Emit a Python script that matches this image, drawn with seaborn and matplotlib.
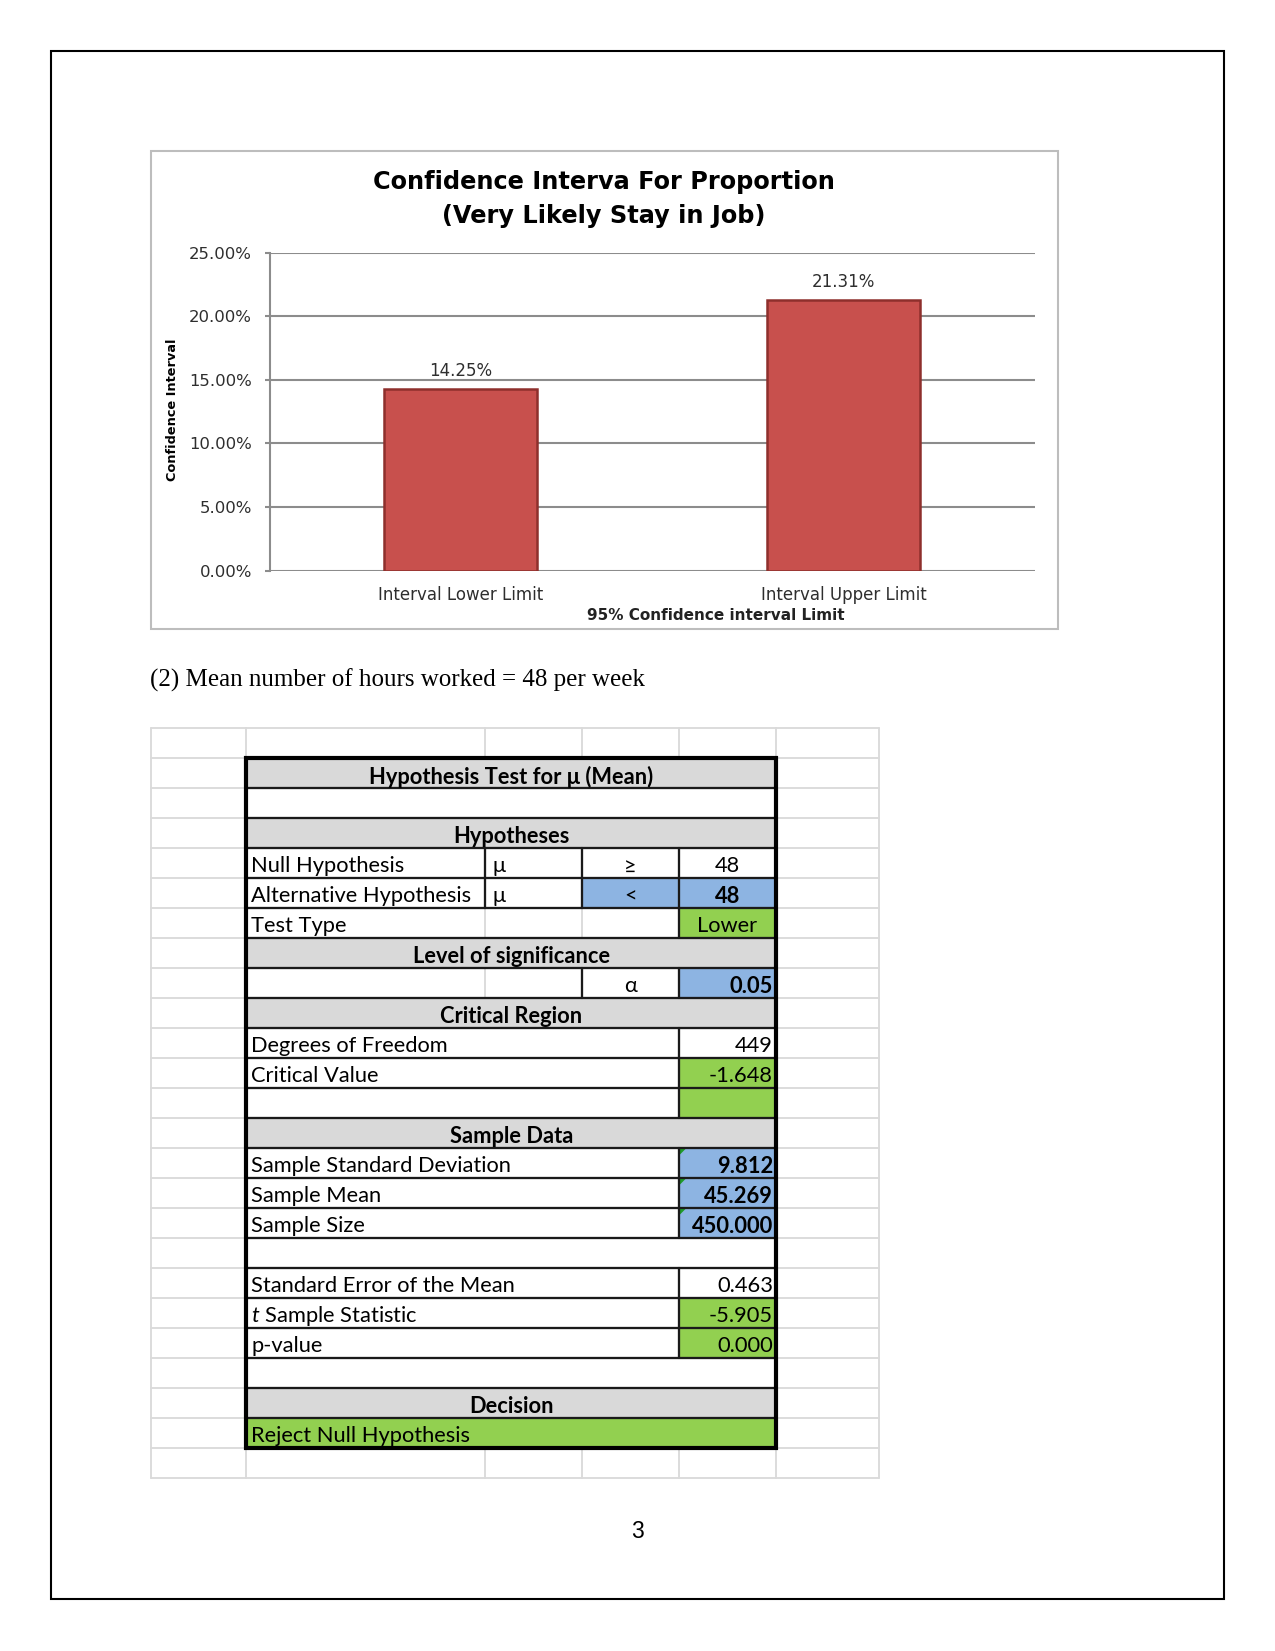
import matplotlib
matplotlib.use("Agg")
import matplotlib.pyplot as plt
import seaborn as sns
import pandas as pd
from matplotlib.patches import Rectangle, Polygon
from matplotlib.ticker import PercentFormatter

# ---------------- data ----------------
categories = ["Interval Lower Limit", "Interval Upper Limit"]
ci_values = [0.1425, 0.2131]
y_ticks = [0.0, 0.05, 0.10, 0.15, 0.20, 0.25]
chart_title_lines = ["Confidence Interva For Proportion", "(Very Likely Stay in Job)"]
y_label = "Confidence Interval"
x_label = "95% Confidence interval Limit"
paragraph = "(2) Mean number of hours worked = 48 per week"
page_number = "3"

row_labels = ["Hypothesis Test for μ (Mean)", "", "Hypotheses", "Null Hypothesis",
              "Alternative Hypothesis", "Test Type", "Level of significance", "",
              "Critical Region", "Degrees of Freedom", "Critical Value", "",
              "Sample Data", "Sample Standard Deviation", "Sample Mean", "Sample Size", "",
              "Standard Error of the Mean", "$t$ Sample Statistic", "p-value", "",
              "Decision", "Reject Null Hypothesis"]
row_kinds = ["header", "blank", "header", "hyp", "hyp", "type", "header", "alpha",
             "header", "kv", "kv", "kv", "header", "kv", "kv", "kv", "blank",
             "kv", "kv", "kv", "blank", "header", "decision"]
row_values = ["", "", "", "48", "48", "Lower", "", "0.05", "", "449", "-1.648", "",
              "", "9.812", "45.269", "450.000", "", "0.463", "-5.905", "0.000", "", "", ""]
row_symbols = ["", "", "", "≥", "<", "", "", "α", "", "", "", "", "", "", "", "", "",
               "", "", "", "", "", ""]
row_param = ["", "", "", "μ", "μ", "", "", "", "", "", "", "", "", "", "", "", "",
             "", "", "", "", "", ""]
value_fill = [None, None, None, None, "blue", "green", None, "blue", None, None, "green",
              "green", None, "blue", "blue", "blue", None, None, "green", "green", None,
              None, None]
symbol_fill = [None, None, None, None, "blue", None, None, None, None, None, None, None,
               None, None, None, None, None, None, None, None, None, None, None]
value_bold = [False, False, False, False, True, False, False, True, False, False, False,
              False, False, True, True, True, False, False, False, False, False, False, False]
flag_rows = [False] * 13 + [True, True, True] + [False] * 7

# ---------------- setup ----------------
W, H, DPI = 1275, 1651, 150
sns.set_theme(style="white")
plt.rcParams['font.family'] = ['DejaVu Sans']
plt.rcParams['mathtext.fontset'] = 'custom'
plt.rcParams['mathtext.it'] = 'Lato:italic'
plt.rcParams['mathtext.rm'] = 'Lato'

fig = plt.figure(figsize=(W / DPI, H / DPI), dpi=DPI)
fig.patch.set_facecolor("white")

def ax_rect(x0, y0, x1, y1):
    return [x0 / W, 1 - y1 / H, (x1 - x0) / W, (y1 - y0) / H]

page = fig.add_axes([0, 0, 1, 1])
page.set_xlim(0, W)
page.set_ylim(H, 0)
page.axis("off")
page.set_zorder(1)

# page border
page.add_patch(Rectangle((50.5, 50.5), 1224 - 50.5, 1599 - 50.5, fill=False,
                         edgecolor="black", lw=1.0))

# chart frame
page.add_patch(Rectangle((150.5, 150.5), 1058 - 150.5, 628.5 - 150.5, fill=False,
                         edgecolor="#BDBDBD", lw=1.0))

# ---------------- chart ----------------
GRID = "#8C8C8C"
BAR = "#C8504D"
TXT = "#2E2E2E"
ax = fig.add_axes(ax_rect(269.5, 252.7, 1035, 570.6))
ax.set_zorder(2)
ax.patch.set_alpha(0)
df = pd.DataFrame({"cat": categories, "val": ci_values})
sns.barplot(data=df, x="cat", y="val", ax=ax, color=BAR, saturation=1, width=0.4,
            edgecolor="#8E2F2C", linewidth=1.2)
ax.set_xlim(-0.5, 1.5)
ax.set_ylim(0, 0.25)
ax.set_yticks(y_ticks)
ax.yaxis.set_major_formatter(PercentFormatter(1.0, decimals=2))
ax.grid(axis="y", color=GRID, lw=1.0)
ax.grid(axis="x", visible=False)
ax.set_axisbelow(True)
for s in ["top", "right", "bottom"]:
    ax.spines[s].set_visible(False)
ax.spines["left"].set_color(GRID)
ax.spines["left"].set_linewidth(1.0)
ax.tick_params(axis="y", left=True, length=2.4, width=1.0, color=GRID, labelsize=7.9,
               labelcolor=TXT, pad=6.0)
ax.tick_params(axis="x", length=0, labelsize=8, labelcolor=TXT, pad=7.5)
ax.set_xlabel("")
ax.set_ylabel("")
for p in ax.patches:
    h = p.get_height()
    ax.annotate(f"{h * 100:.2f}%", (p.get_x() + p.get_width() / 2, h),
                xytext=(0, 8.6), textcoords="offset points", ha="center", va="center",
                fontsize=8, color=TXT)

page.text(604, 182, chart_title_lines[0], ha="center", va="center", fontsize=11.5,
          fontweight="bold", color="black")
page.text(604, 216, chart_title_lines[1], ha="center", va="center", fontsize=11.5,
          fontweight="bold", color="black")
page.text(172.5, 410, y_label, rotation=90, ha="center", va="center", fontsize=6.2,
          fontweight="bold", color="black")
page.text(716, 616, x_label, ha="center", va="center", fontsize=7.3, fontweight="bold",
          color="#222222")

# ---------------- paragraph ----------------
page.text(150.5, 687, paragraph, ha="left", va="baseline", fontsize=12,
          family=["Liberation Serif"], color="black")
page.text(637, 1532, page_number, ha="center", va="center", fontsize=11,
          family=["Liberation Sans"], color="black")

# ---------------- table ----------------
cols = [150.5, 246.4, 485.3, 582.2, 679.0, 776.0, 879.0]
top0, rh, nrows = 727.5, 30.0, 25
LIGHT = "#DADADA"
DARK = "#1A1A1A"
GRAY = "#D9D9D9"
BLUE = "#8DB4E2"
GREEN = "#92D050"
fills = {"blue": BLUE, "green": GREEN}
TFONT = ["Lato", "DejaVu Sans"]
TSIZE = 10.5
HSIZE = 10.5

for x in cols:
    page.plot([x, x], [top0, top0 + nrows * rh], color=LIGHT, lw=0.9, zorder=0.5)
for r in range(nrows + 1):
    y = top0 + r * rh
    page.plot([cols[0], cols[-1]], [y, y], color=LIGHT, lw=0.9, zorder=0.5)

B, C, D, E, F = cols[1], cols[2], cols[3], cols[4], cols[5]
for i, kind in enumerate(row_kinds):
    y0 = top0 + (i + 1) * rh
    y1 = y0 + rh
    yc = (y0 + y1) / 2 + 4
    base = {"header": GRAY, "decision": GREEN}.get(kind, "white")
    page.add_patch(Rectangle((B, y0), F - B, rh, facecolor=base, edgecolor="none",
                             zorder=1))
    if value_fill[i]:
        page.add_patch(Rectangle((E, y0), F - E, rh, facecolor=fills[value_fill[i]],
                                 edgecolor="none", zorder=1.1))
    if symbol_fill[i]:
        page.add_patch(Rectangle((D, y0), E - D, rh, facecolor=fills[symbol_fill[i]],
                                 edgecolor="none", zorder=1.1))
    # vertical separators
    if kind == "hyp":
        for x in (C, D, E):
            page.plot([x, x], [y0, y1], color=DARK, lw=1.1, zorder=3)
    elif kind == "type":
        for x in (C, D):
            page.plot([x, x], [y0, y1], color=LIGHT, lw=0.9, zorder=2)
        page.plot([E, E], [y0, y1], color=DARK, lw=1.1, zorder=3)
    elif kind == "alpha":
        page.plot([C, C], [y0, y1], color=LIGHT, lw=0.9, zorder=2)
        for x in (D, E):
            page.plot([x, x], [y0, y1], color=DARK, lw=1.1, zorder=3)
    elif kind == "kv":
        page.plot([E, E], [y0, y1], color=DARK, lw=1.1, zorder=3)
    if flag_rows[i]:
        page.add_patch(Polygon([(E + 1, y0 + 1), (E + 7, y0 + 1), (E + 1, y0 + 7)],
                               closed=True, facecolor="#1F9A2A", edgecolor="none",
                               zorder=2.5))
    # texts
    lab = row_labels[i]
    if kind == "header":
        page.text((B + F) / 2, yc, lab, ha="center", va="center", fontsize=HSIZE,
                  fontweight="bold", family=TFONT, color="black", zorder=4)
    elif lab:
        page.text(B + 5, yc, lab, ha="left", va="center", fontsize=TSIZE,
                  family=TFONT, color="black", zorder=4)
    if row_param[i]:
        page.text(C + 7, yc, row_param[i], ha="left", va="center", fontsize=TSIZE,
                  family=TFONT, color="black", zorder=4)
    if row_symbols[i]:
        page.text((D + E) / 2, yc, row_symbols[i], ha="center", va="center",
                  fontsize=TSIZE, family=TFONT, color="black", zorder=4)
    v = row_values[i]
    if v:
        fw = "bold" if value_bold[i] else "normal"
        if kind in ("hyp", "type"):
            page.text((E + F) / 2, yc, v, ha="center", va="center", fontsize=TSIZE,
                      fontweight=fw, family=TFONT, color="black", zorder=4)
        else:
            page.text(F - 3, yc, v, ha="right", va="center", fontsize=TSIZE,
                      fontweight=fw, family=TFONT, color="black", zorder=4)

for i in range(len(row_kinds) + 1):
    y = top0 + (i + 1) * rh
    page.plot([B, F], [y, y], color=DARK, lw=1.1, zorder=3)
page.add_patch(Rectangle((B, top0 + rh), F - B, len(row_kinds) * rh, fill=False,
                         edgecolor="black", lw=2.0, zorder=3.5))

fig.savefig("out.png", dpi=DPI, facecolor="white")
